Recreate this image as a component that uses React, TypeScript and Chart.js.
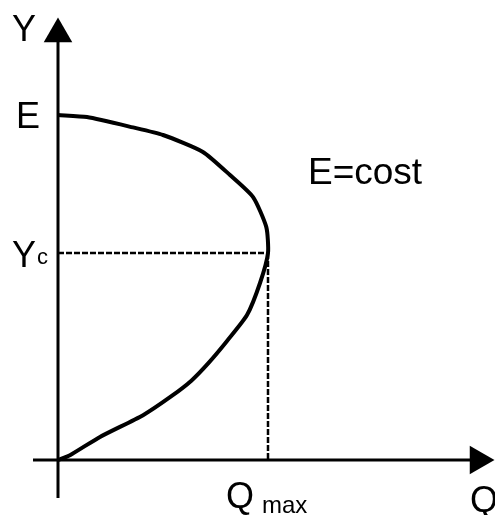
import React, { useEffect, useRef } from "react";
import { Chart, registerables } from "chart.js";

Chart.register(...registerables);

// Curve (Q, Y), from the origin round to E
const curveQ = [0, 0.57, 2.0, 4.05, 5.4, 6.35, 7.15, 8.05, 9.0, 9.62, 10, 9.92, 9.29, 8.19, 6.9, 5.0, 3.57, 1.38, 0];
const curveY = [0, 0.14, 0.67, 1.3, 1.85, 2.3, 2.8, 3.45, 4.2, 5.13, 6.0, 6.75, 7.62, 8.26, 8.93, 9.42, 9.64, 9.94, 10];

const Q_MAX = 10;
const Y_C = 6;
const E_VAL = 10;

// axis extents (data units)
const X_MIN = -2.762;
const X_MAX = 20.81;
const Y_MIN = -1.594;
const Y_MAX = 13.333;
const X_AXIS_FROM = -1.19;
const X_ARROW = 20.0;
const Y_AXIS_FROM = -1.1;
const Y_ARROW = 12.35;

const labelsPlugin = {
  id: "labels",
  afterDatasetsDraw(chart: any) {
    const { ctx, scales } = chart;
    const xs = scales.x;
    const ys = scales.y;
    const x0 = xs.getPixelForValue(0);
    const y0 = ys.getPixelForValue(0);
    const big = "36px 'Liberation Sans', Arial, sans-serif";
    const small = "22px 'Liberation Sans', Arial, sans-serif";
    ctx.save();
    ctx.fillStyle = "#000";
    ctx.textBaseline = "alphabetic";
    ctx.font = big;
    // Y at top of axis
    ctx.textAlign = "right";
    ctx.fillText("Y", x0 - 22, ys.getPixelForValue(Y_ARROW) + 7);
    // E
    ctx.fillText("E", x0 - 18, ys.getPixelForValue(E_VAL) + 13);
    // Yc
    const yc = ys.getPixelForValue(Y_C);
    ctx.fillText("Y", x0 - 22, yc + 14);
    ctx.font = small;
    ctx.textAlign = "left";
    ctx.fillText("c", x0 - 21, yc + 11);
    // Q max
    const qx = xs.getPixelForValue(Q_MAX);
    ctx.font = big;
    ctx.textAlign = "left";
    ctx.fillText("Q", qx - 42, y0 + 48);
    ctx.font = "24px 'Liberation Sans', Arial, sans-serif";
    ctx.fillText("max", qx - 6, y0 + 53);
    // Q at right
    ctx.font = big;
    ctx.fillText("Q", xs.getPixelForValue(X_ARROW) - 8, y0 + 52);
    // E=cost
    ctx.font = "37px 'Liberation Sans', Arial, sans-serif";
    ctx.fillText("E=cost", x0 + 250, ys.getPixelForValue(E_VAL) + 69);
    ctx.restore();
  },
};

export default function App() {
  const ref = useRef<HTMLCanvasElement | null>(null);
  useEffect(() => {
    if (!ref.current) return;
    const curve = curveQ.map((q, i) => ({ x: q, y: curveY[i] }));
    const black = "#000";
    const chart = new Chart(ref.current, {
      type: "scatter",
      data: {
        datasets: [
          {
            data: curve,
            showLine: true,
            borderColor: black,
            borderWidth: 4,
            pointRadius: 0,
            tension: 0.2,
            fill: false,
          } as any,
          {
            data: [
              { x: 0, y: Y_C },
              { x: Q_MAX, y: Y_C },
            ],
            showLine: true,
            borderColor: black,
            borderWidth: 2.5,
            borderDash: [6, 2],
            pointRadius: 0,
          },
          {
            data: [
              { x: Q_MAX, y: Y_C },
              { x: Q_MAX, y: 0 },
            ],
            showLine: true,
            borderColor: black,
            borderWidth: 2.5,
            borderDash: [6, 2],
            pointRadius: 0,
          },
          {
            data: [
              { x: 0, y: Y_AXIS_FROM },
              { x: 0, y: Y_ARROW },
            ],
            showLine: true,
            borderColor: black,
            borderWidth: 3,
            pointRadius: 0,
          },
          {
            data: [
              { x: X_AXIS_FROM, y: 0 },
              { x: X_ARROW, y: 0 },
            ],
            showLine: true,
            borderColor: black,
            borderWidth: 3,
            pointRadius: 0,
          },
          {
            data: [
              { x: 0, y: Y_ARROW },
              { x: X_ARROW, y: 0 },
            ],
            showLine: false,
            pointStyle: "triangle",
            rotation: [0, 90],
            pointRadius: 16.5,
            pointBackgroundColor: black,
            pointBorderColor: black,
            pointBorderWidth: 0,
          } as any,
        ],
      },
      options: {
        responsive: false,
        animation: false,
        maintainAspectRatio: false,
        layout: { padding: 0, autoPadding: false },
        plugins: {
          legend: { display: false },
          tooltip: { enabled: false },
        },
        events: [],
        scales: {
          x: { type: "linear", min: X_MIN, max: X_MAX, display: false },
          y: { type: "linear", min: Y_MIN, max: Y_MAX, display: false },
        },
      },
      plugins: [labelsPlugin],
    });
    return () => chart.destroy();
  }, []);
  return (
    <div style={{ position: "fixed", left: 0, top: 0, width: 495, height: 515, background: "#fff" }}>
      <canvas ref={ref} width={495} height={515} style={{ display: "block" }} />
    </div>
  );
}
